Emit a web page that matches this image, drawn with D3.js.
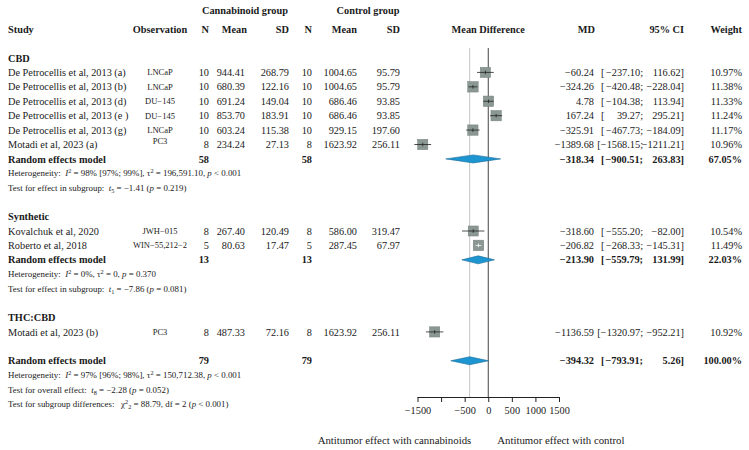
<!DOCTYPE html>
<html>
<head>
<meta charset="utf-8">
<title>Forest plot</title>
<script src="https://d3js.org/d3.v7.min.js"></script>
<style>
    body { margin: 0; background: #fff; }
    svg text { font-family: "Liberation Serif", "Times New Roman", serif; fill: #1a1a1a; }
    .b { font-weight: bold; }
    .note { font-size: 8.9px; }
</style>
</head>
<body>
<svg id="chart"></svg>
<script>
// study level data
var studies = ["De Petrocellis et al, 2013 (a)", "De Petrocellis et al, 2013 (b)", "De Petrocellis et al, 2013 (d)",
    "De Petrocellis et al, 2013 (e )", "De Petrocellis et al, 2013 (g)", "Motadi et al, 2023 (a)",
    "Kovalchuk et al, 2020", "Roberto et al, 2018", "Motadi et al, 2023 (b)"];
var groups = ["CBD", "CBD", "CBD", "CBD", "CBD", "CBD", "Synthetic", "Synthetic", "THC:CBD"];
var observation = ["LNCaP", "LNCaP", "DU\u2212145", "DU\u2212145", "LNCaP", "PC3", "JWH\u2212015", "WIN\u221255,212\u22122", "PC3"];
var nCann = [10, 10, 10, 10, 10, 8, 8, 5, 8];
var meanCann = ["944.41", "680.39", "691.24", "853.70", "603.24", "234.24", "267.40", "80.63", "487.33"];
var sdCann = ["268.79", "122.16", "149.04", "183.91", "115.38", "27.13", "120.49", "17.47", "72.16"];
var nCtrl = [10, 10, 10, 10, 10, 8, 8, 5, 8];
var meanCtrl = ["1004.65", "1004.65", "686.46", "686.46", "929.15", "1623.92", "586.00", "287.45", "1623.92"];
var sdCtrl = ["95.79", "95.79", "93.85", "93.85", "197.60", "256.11", "319.47", "67.97", "256.11"];
var md = [-60.24, -324.26, 4.78, 167.24, -325.91, -1389.68, -318.60, -206.82, -1136.59];
var lower = [-237.10, -420.48, -104.38, 39.27, -467.73, -1568.15, -555.20, -268.33, -1320.97];
var upper = [116.62, -228.04, 113.94, 295.21, -184.09, -1211.21, -82.00, -145.31, -952.21];
var weight = [10.97, 11.38, 11.33, 11.24, 11.17, 10.96, 10.54, 11.49, 10.92];

// subgroup random effects models
var groupNames = ["CBD", "Synthetic", "THC:CBD"];
var reN = [58, 13, null];
var reMD = [-318.34, -213.90, null];
var reLower = [-900.51, -559.79, null];
var reUpper = [263.83, 131.99, null];
var reWeight = [67.05, 22.03, null];
var reNotes = [
    ["Heterogeneity:  *I*^2^ = 98% [97%; 99%], \u03c4^2^ = 196,591.10, *p* < 0.001", "Test for effect in subgroup:  *t*_5_ = \u22121.41 (*p* = 0.219)"],
    ["Heterogeneity:  *I*^2^ = 0%, \u03c4^2^ = 0, *p* = 0.370", "Test for effect in subgroup:  *t*_1_ = \u22127.86 (*p* = 0.081)"],
    null
];

// overall model
var totN = 79, totMD = -394.32, totLower = -793.91, totUpper = 5.26, totWeight = 100.00;
var totNotes = ["Heterogeneity:  *I*^2^ = 97% [96%; 98%], \u03c4^2^ = 150,712.38, *p* < 0.001",
    "Test for overall effect:  *t*_8_ = \u22122.28 (*p* = 0.052)",
    "Test for subgroup differences:   \u03c7^2^_2_ = 88.79, df = 2 (*p* < 0.001)"];

var ticks = [-1500, -1000, -500, 0, 500, 1000, 1500];
var tickLabels = ["\u22121500", "", "\u2212500", "0", "500", "1000", "1500"];
var labelLeft = "Antitumor effect with cannabinoids", labelRight = "Antitumor effect with control";

var W = 749, H = 450, fs = 10.3;
var svg = d3.select("#chart").attr("width", W).attr("height", H);

var x = d3.scaleLinear().domain([-1500, 1500]).range([417.5, 559]);
var y = d3.scaleLinear().domain([4, 28]).range([58, 404]);

var minus = function(v) { return v.toFixed(2).replace("-", "\u2212"); };

function txt(xp, yp, s, anchor, cls, size) {
    return svg.append("text").attr("x", xp).attr("y", yp).attr("dy", "0.35em")
        .attr("text-anchor", anchor || "start").attr("class", cls || "")
        .style("font-size", (size || fs) + "px")
        .text(s);
}

// small markup: *italic*, ^sup^, _sub_ ; baseline shifts are undone on the next piece
function note(xp, yp, s) {
    var t = svg.append("text").attr("x", xp).attr("y", yp).attr("dy", "0.35em").attr("class", "note")
        .attr("xml:space", "preserve");
    var parts = s.split(/(\*[^*]+\*|\^[^^]+\^|_[^_]+_)/).filter(function(p) { return p; });
    var shift = 0;
    parts.forEach(function(p) {
        var sp = t.append("tspan"), d = 0;
        if (p[0] === "*") sp.style("font-style", "italic").text(p.slice(1, -1));
        else if (p[0] === "^") { d = -3.2; sp.style("font-size", "6.3px").text(p.slice(1, -1)); }
        else if (p[0] === "_") { d = 2.2; sp.style("font-size", "6.3px").text(p.slice(1, -1)); }
        else sp.text(p);
        if (d - shift !== 0) sp.attr("dy", d - shift);
        shift = d;
    });
}

// column positions
var cStudy = 8, cObs = 160, cN1 = 209, cM1 = 245, cSD1 = 289, cN2 = 312, cM2 = 357, cSD2 = 400;
var cMD = 594, cLo = 643, cUp = 684, cBr = 601, cW = 742;
var yHead1 = 10, yHead2 = 29;

function ciText(yp, lo, up, bold) {
    var cls = bold ? "b" : "";
    var lt = txt(cLo, yp, minus(lo) + ";", "end", cls);
    var w = lt.node().getComputedTextLength();
    txt(Math.min(cBr, cLo - w - 3.5), yp, "[", "start", cls);
    txt(cUp, yp, minus(up) + "]", "end", cls);
}

// headers
txt(cM1, yHead1, "Cannabinoid group", "middle", "b");
txt(cM2 + 11, yHead1, "Control group", "middle", "b");
txt(cStudy, yHead2, "Study", "start", "b");
txt(cObs, yHead2, "Observation", "middle", "b");
txt(cN1, yHead2, "N", "end", "b");
txt(cM1 + 2, yHead2, "Mean", "end", "b");
txt(cSD1, yHead2, "SD", "end", "b");
txt(cN2, yHead2, "N", "end", "b");
txt(cM2, yHead2, "Mean", "end", "b");
txt(cSD2, yHead2, "SD", "end", "b");
txt(x(0), yHead2, "Mean Difference", "middle", "b");
txt(cMD + 1, yHead2, "MD", "end", "b");
txt(cUp, yHead2, "95% CI", "end", "b");
txt(cW, yHead2, "Weight", "end", "b");

// layout rows
var r = 4, studyRows = [], reRows = [];
groupNames.forEach(function(g, gi) {
    txt(cStudy, y(r), g, "start", "b");
    r++;
    groups.forEach(function(gg, i) { if (gg === g) { studyRows[i] = r; r++; } });
    if (reN[gi] !== null) {
        reRows[gi] = r;
        note(cStudy, y(r + 1), reNotes[gi][0]);
        note(cStudy, y(r + 2), reNotes[gi][1]);
        r += 3;
    }
    r++;
});
var totRow = r;
var axisY = 397;

// reference lines
svg.append("line").attr("x1", x(totMD)).attr("x2", x(totMD)).attr("y1", 48).attr("y2", axisY)
    .attr("stroke", "#c4c4c4").attr("stroke-width", 1);
svg.append("line").attr("x1", x(0)).attr("x2", x(0)).attr("y1", 48).attr("y2", axisY)
    .attr("stroke", "#444").attr("stroke-width", 1);

// study rows
studies.forEach(function(s, i) {
    var cy = y(studyRows[i]), cx = x(md[i]);
    txt(cStudy, cy, s);
    txt(cObs, cy + (i === 5 ? -3 : 0), observation[i], "middle", "", 8.5);
    txt(cN1, cy, nCann[i], "end");
    txt(cM1, cy, meanCann[i], "end");
    txt(cSD1, cy, sdCann[i], "end");
    txt(cN2, cy, nCtrl[i], "end");
    txt(cM2, cy, meanCtrl[i], "end");
    txt(cSD2, cy, sdCtrl[i], "end");
    txt(cMD, cy, minus(md[i]), "end");
    ciText(cy, lower[i], upper[i], false);
    txt(cW, cy, weight[i].toFixed(2) + "%", "end");

    var side = 10.5 * Math.sqrt(weight[i] / 11.49);
    svg.append("rect").attr("x", cx - side / 2).attr("y", cy - side / 2).attr("width", side).attr("height", side)
        .attr("fill", "#8a9792").attr("stroke", "#76827e").attr("stroke-width", 0.5);
    var inside = x(upper[i]) - x(lower[i]) < side * 0.7;
    var lc = inside ? "#fff" : "#222";
    svg.append("line").attr("x1", x(lower[i])).attr("x2", x(upper[i])).attr("y1", cy).attr("y2", cy)
        .attr("stroke", lc).attr("stroke-width", 0.8);
    svg.append("line").attr("x1", cx).attr("x2", cx).attr("y1", cy - 1.8).attr("y2", cy + 1.8)
        .attr("stroke", lc).attr("stroke-width", 0.8);
});

function diamond(yp, m, lo, up) {
    var h = 4;
    svg.append("path")
        .attr("d", "M" + x(lo) + "," + yp + "L" + x(m) + "," + (yp - h) + "L" + x(up) + "," + yp + "L" + x(m) + "," + (yp + h) + "Z")
        .attr("fill", "#1d95d0").attr("stroke", "#1a6a98").attr("stroke-width", 0.6);
}

function modelRow(yp, n, m, lo, up, w) {
    txt(cStudy, yp, "Random effects model", "start", "b");
    txt(cN1, yp, n, "end", "b");
    txt(cN2, yp, n, "end", "b");
    txt(cMD, yp, minus(m), "end", "b");
    ciText(yp, lo, up, true);
    txt(cW, yp, w.toFixed(2) + "%", "end", "b");
    diamond(yp, m, lo, up);
}

// subgroup models
groupNames.forEach(function(g, gi) {
    if (reN[gi] === null) return;
    modelRow(y(reRows[gi]), reN[gi], reMD[gi], reLower[gi], reUpper[gi], reWeight[gi]);
});

// overall model
modelRow(y(totRow), totN, totMD, totLower, totUpper, totWeight);
totNotes.forEach(function(n, k) { note(cStudy, y(totRow + 1 + k), n); });

// x axis
var axis = svg.append("g").attr("transform", "translate(0," + axisY + ")")
    .call(d3.axisBottom(x).tickValues(ticks).tickSize(5).tickFormat(function(d, i) { return tickLabels[i]; }));
axis.select(".domain").attr("stroke", "#222").attr("d", "M" + x(-1500) + ",0.5H" + x(1500));
axis.selectAll("line").attr("stroke", "#222");
axis.selectAll("text").style("font-family", "Liberation Serif, serif").style("font-size", fs + "px")
    .attr("fill", "#1a1a1a").attr("y", 9.5);

txt(x(0) - 17, 440, labelLeft, "end", "", 10.8);
txt(x(0) + 9, 440, labelRight, "start", "", 10.8);
</script>
</body>
</html>
